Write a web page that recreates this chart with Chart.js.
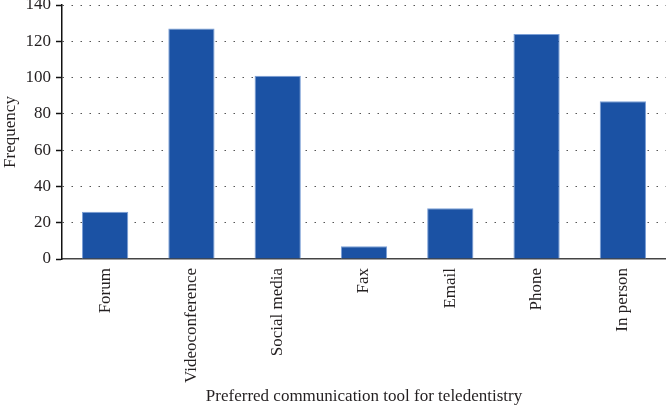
<!DOCTYPE html>
<html>
<head>
<meta charset="utf-8">
<script src="https://cdn.jsdelivr.net/npm/chart.js@4"></script>
<style>
    html, body { margin: 0; padding: 0; background: #fff; }
    canvas { display: block; }
</style>
</head>
<body>
<canvas id="grafico" width="666" height="408"></canvas>
<script>
const categories = ['Forum', 'Videoconference', 'Social media', 'Fax', 'Email', 'Phone', 'In person']
const frequency = [26, 127, 101, 7, 28, 124, 87]
const yTicks = [0, 20, 40, 60, 80, 100, 120, 140]

const FONT = "'Liberation Serif', 'DejaVu Serif', serif"
const TEXT = '#231f20'

const ctx = document.getElementById('grafico')
new Chart(ctx, {
    type: 'bar',
    data: {
        labels: categories,
        datasets: [{
            label: 'Frequency',
            data: frequency,
            backgroundColor: '#1b52a4',
            borderColor: '#7b9fd6',
            borderWidth: 1,
            barPercentage: 0.536,
            categoryPercentage: 1,
        }]
    },
    options: {
        responsive: false,
        animation: false,
        layout: { padding: { top: 5, left: 0, right: 0, bottom: 0 } },
        plugins: {
            legend: { display: false },
            tooltip: { enabled: false },
        },
        scales: {
            x: {
                grid: { display: false, drawTicks: false },
                border: { display: true, color: '#444', width: 1.5 },
                ticks: {
                    minRotation: 90,
                    maxRotation: 90,
                    padding: 9,
                    color: TEXT,
                    font: { family: FONT, size: 17 },
                },
                title: {
                    display: true,
                    text: 'Preferred communication tool for teledentistry',
                    color: TEXT,
                    font: { family: FONT, size: 17 },
                    padding: { top: 0, bottom: 1 },
                },
                afterFit: (scale) => {
                    scale.height = 149
                    scale.paddingLeft = 0
                    scale.paddingRight = 0
                },
            },
            y: {
                min: 0,
                max: 140,
                afterBuildTicks: (scale) => {
                    scale.ticks = yTicks.map(v => ({ value: v }))
                },
                grid: {
                    color: (c) => c.tick && c.tick.value === 0 ? 'rgba(0,0,0,0)' : '#555',
                    lineWidth: 1,
                    tickColor: '#111',
                    tickLength: 6,
                    tickWidth: 1.5,
                    tickBorderDash: [],
                },
                border: { display: true, color: '#111', width: 1.5, dash: [1.5, 7.5] },
                ticks: {
                    padding: 5,
                    color: TEXT,
                    font: { family: FONT, size: 17 },
                },
                title: {
                    display: true,
                    text: 'Frequency',
                    color: TEXT,
                    font: { family: FONT, size: 17 },
                    padding: { top: 0, bottom: 0 },
                },
                afterFit: (scale) => {
                    scale.width = 62
                    scale.paddingTop = 0
                    scale.paddingBottom = 0
                },
            }
        }
    }
})
</script>
</body>
</html>
